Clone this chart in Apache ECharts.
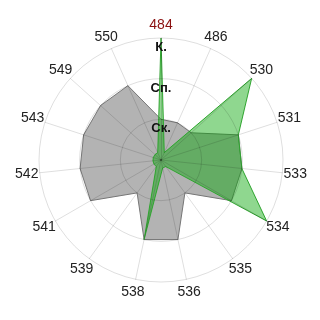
<!DOCTYPE html>
<html><head><meta charset="utf-8">
<script src="https://cdn.jsdelivr.net/npm/echarts@6/dist/echarts.min.js"></script>
<style>html,body{margin:0;padding:0;background:#fff}#c{width:320px;height:320px}</style>
</head><body><div id="c"></div>
<script>
// Categories in clockwise order starting at the top
const categories = ['484','486','530','531','533','534','535','536','538','539','541','542','543','549','550'];
// Radial level labels for values 0..3
const levelLabels = ['', 'Ск.', 'Сп.', 'К.'];
const greyValues  = [1, 1, 1, 2, 2, 2, 1, 2, 2, 1, 2, 2, 2, 2, 2];
const greenValues = [3, 0.2, 3, 2, 2, 3, 0.2, 0.2, 2, 0.2, 0.2, 0.2, 0.2, 0.2, 0.2];
const highlightCategory = '484';

const FONT = '"Liberation Sans", Arial, sans-serif';
// ECharts radar places indicators counter-clockwise; reorder so they read clockwise
const n = categories.length;
const order = categories.map((_, i) => (n - i) % n);
const reorder = arr => order.map(i => arr[i]);

const indicator = order.map((i, k) => {
  const ind = { name: categories[i], min: 0, max: 3 };
  if (categories[i] === highlightCategory) ind.color = '#8b1010';
  if (k === 0) {
    ind.axisLabel = {
      show: true,
      formatter: v => levelLabels[Math.round(v)] || '',
      fontWeight: 'bold', fontSize: 13, color: '#111', fontFamily: FONT,
      align: 'center', verticalAlign: 'top', margin: 0, padding: [3, 0, 0, 0]
    };
  }
  return ind;
});

const chart = echarts.init(document.getElementById('c'), null, { renderer: 'canvas' });
chart.setOption({
  animation: false,
  backgroundColor: '#fff',
  radar: {
    z: 5,
    center: [161, 160],
    radius: 122,
    startAngle: 90,
    splitNumber: 3,
    shape: 'circle',
    nameGap: 13,
    axisName: { color: '#222', fontSize: 14, fontFamily: FONT, align: 'center', verticalAlign: 'middle' },
    axisLine: { lineStyle: { color: 'rgba(0,0,0,0.13)', width: 1 } },
    axisTick: { show: false },
    axisLabel: { show: false },
    splitLine: { lineStyle: { color: 'rgba(0,0,0,0.13)', width: 1 } },
    splitArea: { show: false },
    indicator: indicator
  },
  series: [
    {
      type: 'radar', symbol: 'none', silent: true, z: 2,
      data: [{
        value: reorder(greyValues),
        lineStyle: { color: '#777', width: 1 },
        areaStyle: { color: 'rgba(120,120,120,0.56)', opacity: 1 }
      }]
    },
    {
      type: 'radar', symbol: 'none', silent: true, z: 2,
      data: [{
        value: reorder(greenValues),
        lineStyle: { color: '#3fa63f', width: 1 },
        areaStyle: { color: 'rgba(0,165,0,0.44)', opacity: 1 }
      }]
    }
  ]
});
</script></body></html>
